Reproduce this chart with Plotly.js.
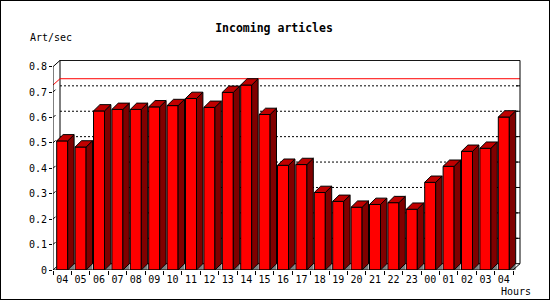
<!DOCTYPE html>
<html>
<head>
<meta charset="utf-8">
<script src="https://cdn.plot.ly/plotly-3.0.1.min.js"></script>
<style>
html,body{margin:0;padding:0;background:#fff;}
#wrap{position:relative;width:550px;height:300px;}
#chart{width:550px;height:300px;}
#frame{position:absolute;left:0;top:0;width:548px;height:298px;border:1px solid #000;pointer-events:none;}
</style>
</head>
<body>
<div id="wrap"><div id="chart"></div><div id="frame"></div></div>
<script>
// ---- data ----
const hours = ['04','05','06','07','08','09','10','11','12','13','14','15','16','17','18','19','20','21','22','23','00','01','02','03','04'];
const artPerSec = [0.508,0.484,0.626,0.632,0.632,0.642,0.647,0.675,0.640,0.699,0.728,0.612,0.412,0.415,0.305,0.270,0.247,0.258,0.265,0.239,0.345,0.408,0.467,0.479,0.602];
const yTicks = [0,0.1,0.2,0.3,0.4,0.5,0.6,0.7,0.8];
const chartTitle = 'Incoming articles';
const yLabel = 'Art/sec';
const xLabel = 'Hours';

// ---- geometry ----
const W = 550, H = 300, ML = 53, MR = 29, MT = 60, MB = 30;
const plotW = W - ML - MR, plotH = H - MT - MB;
const pxPerX = 18.4, pxPerY = 254.1;
const xMin = -0.5, xMax = xMin + plotW / pxPerX;
const yMin = 0, yMax = plotH / pxPerY;
const n = hours.length;
const xEnd = n - 0.5;
const barW = 11 / pxPerX;
const ddx = 6.4 / pxPerX, ddy = 6.3 / pxPerY;      // bar depth
const pdx = 7 / pxPerX, pdy = 6.3 / pxPerY;        // panel depth
const yTop = yTicks[yTicks.length - 1];
const idx = hours.map((h, i) => i);

// ---- 3D faces ----
const topX = [], topY = [], sideX = [], sideY = [], shX = [], shY = [];
idx.forEach(i => {
  const v = artPerSec[i], l = i - barW / 2, r = i + barW / 2;
  topX.push(l, l + ddx, r + ddx, r, l, null);
  topY.push(v, v + ddy, v + ddy, v, v, null);
  sideX.push(r, r + ddx, r + ddx, r, r, null);
  sideY.push(v, v + ddy, ddy, 0, v, null);
  shX.push(r, r + ddx, r + ddx, r, null);
  shY.push(0, ddy, 0, 0, null);
});

const traces = [
  {type:'bar', x: idx, y: artPerSec, width: barW, marker:{color:'#ff0000', line:{color:'#000', width:1}}, hoverinfo:'skip'},
  {type:'scatter', mode:'lines', x: shX, y: shY, fill:'toself', fillcolor:'#808080', line:{width:0, color:'#808080'}, hoverinfo:'skip'},
  {type:'scatter', mode:'lines', x: sideX, y: sideY, fill:'toself', fillcolor:'#800000', line:{color:'#000', width:1}, hoverinfo:'skip'},
  {type:'scatter', mode:'lines', x: topX, y: topY, fill:'toself', fillcolor:'#c00000', line:{color:'#000', width:1}, hoverinfo:'skip'}
];

// ---- shapes ----
const shapes = [];
const ln = (x0, y0, x1, y1, color, layer, dash) => shapes.push({type:'line', xref:'x', yref:'y', x0, y0, x1, y1, layer: layer || 'above', line:{color: color || '#000', width:1, dash: dash || 'solid'}});
// back panel
const bL = xMin + pdx, bR = xEnd + pdx;
yTicks.slice(1, -1).forEach(t => ln(bL, t + pdy, bR, t + pdy, '#000', 'below', '2px,2px'));
ln(bL, pdy, bL, yTop + pdy, '#000', 'below');
ln(bL, pdy, bR, pdy, '#000', 'below');
ln(xMin, 0, bL, pdy, '#000', 'below');
// max line
const maxV = Math.max(...artPerSec);
ln(xMin, maxV, bL, maxV + pdy, '#ff0000', 'below');
ln(bL, maxV + pdy, bR, maxV + pdy, '#ff0000', 'below');
// frame
ln(bL, yTop + pdy, bR, yTop + pdy);
ln(bR, pdy, bR, yTop + pdy);
ln(xMin, yTop, bL, yTop + pdy);
ln(xEnd, 0, bR, pdy);
ln(xMin, 0, xMin, yTop);
ln(xMin, 0, xEnd, 0);
// right back ticks and small depth ticks
yTicks.slice(1, -1).forEach(t => {
  ln(bR - 4 / pxPerX, t + pdy, bR, t + pdy);
  ln(xMin, t, xMin + 2.5 / pxPerX, t + 2.5 / pxPerY, '#000', 'below');
});

const mono = 'DejaVu Sans Mono, Liberation Mono, monospace';
const layout = {
  width: W, height: H,
  margin: {l: ML, r: MR, t: MT, b: MB, pad: 0},
  paper_bgcolor: '#fff', plot_bgcolor: '#fff',
  showlegend: false,
  font: {family: mono, size: 10, color: '#000'},
  title: {text: '<b>' + chartTitle + '</b>', xref:'container', yref:'container', x: 274 / W, xanchor:'center', y: 1 - 27.5 / H, yanchor:'middle', font:{family: mono, size: 11.5, color:'#000'}},
  xaxis: {
    type:'linear', range:[xMin, xMax], showgrid:false, zeroline:false, showline:false,
    tickvals: idx, ticktext: hours, ticks:'', ticklabelstandoff: 2,
    tickfont:{family: mono, size: 10, color:'#000'},
    minor:{tick0: -0.5, dtick: 1, ticks:'outside', ticklen: 4, tickcolor:'#000', tickwidth: 1, showgrid:false}
  },
  yaxis: {
    range:[yMin, yMax], showgrid:false, zeroline:false, showline:false,
    tickvals: yTicks, ticks:'outside', ticklen: 3, tickcolor:'#000', tickwidth: 1,
    tickfont:{family: mono, size: 10, color:'#000'}
  },
  shapes: shapes,
  annotations: [
    {text: yLabel, xref:'paper', yref:'paper', x: (28 - ML) / plotW, y: (H - MB - 37.5) / plotH, xanchor:'left', yanchor:'middle', showarrow:false, font:{family: mono, size: 10, color:'#000'}},
    {text: xLabel, xref:'paper', yref:'paper', x: (533 - ML) / plotW, y: (H - MB - 291.5) / plotH, xanchor:'right', yanchor:'middle', showarrow:false, font:{family: mono, size: 10, color:'#000'}}
  ]
};

Plotly.newPlot('chart', traces, layout, {staticPlot: true, displayModeBar: false});
</script>
</body>
</html>
